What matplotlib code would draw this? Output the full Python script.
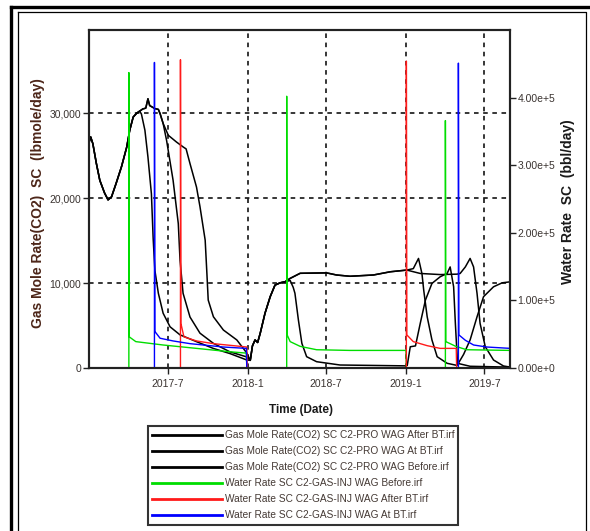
import matplotlib
matplotlib.use("Agg")
import matplotlib.pyplot as plt
import matplotlib.dates as mdates
from matplotlib.lines import Line2D
from matplotlib.ticker import FuncFormatter, FixedLocator
import numpy as np

plt.rcParams['font.family'] = ['Liberation Sans', 'DejaVu Sans']

start = np.datetime64('2017-01-01')

# gas mole rate (lbmole/day), days since 2017-01-01
gas_early_days = [0, 3, 8, 16, 24, 35, 43, 51, 62, 74, 86, 93, 101, 109, 116]
gas_early = [26700, 27200, 26400, 24100, 22100, 20600, 19800, 20150, 21800, 23700, 26000, 28000, 29550, 30000, 30250]

before1_days = [120, 128, 135, 143, 147, 151, 159, 170, 186, 209, 247, 286, 324, 363]
before1 = [29900, 28000, 24850, 20500, 15300, 11500, 8800, 6450, 4850, 3900, 3100, 2300, 1700, 940]

peak_days = [123, 130, 135, 139, 151, 159, 163, 170]
peak_vals = [30500, 30600, 31700, 30900, 30550, 30450, 29950, 28800]

atbt1_days = [178, 193, 205, 209, 216, 232, 255, 286, 324, 363]
atbt1 = [26800, 22100, 17000, 12700, 8800, 6000, 4100, 2900, 1900, 1300]

after1_days = [182, 201, 217, 223, 232, 247, 255, 267, 271, 274, 286, 309, 340, 363]
after1 = [27400, 26600, 26000, 25800, 24070, 21300, 19000, 15050, 11100, 8000, 6030, 4470, 3300, 1760]

rise_days = [371, 376, 382, 388, 394, 405, 417, 428, 440, 451]
rise = [900, 2600, 3300, 3000, 4100, 6450, 8400, 9760, 10030, 10150]

before2_days = [463, 470, 474, 482, 490, 501, 524, 578, 730, 733, 740, 752, 763, 775, 790, 809, 825, 832, 840, 844, 849, 878, 971]
before2 = [10300, 9500, 8800, 5650, 2900, 1330, 740, 350, 250, 300, 2500, 2600, 5250, 8000, 9960, 10740, 11140, 11900, 9560, 5250, 550, 200, 100]

plat_days = [463, 486, 547, 570, 601, 655, 694, 732]
plat = [10550, 11150, 11200, 10950, 10800, 10950, 11330, 11530]

after2_days = [747, 759, 767, 771, 779, 790, 802, 825, 848, 863, 878, 894, 909, 932, 952, 971]
after2 = [11700, 12900, 11100, 9170, 6030, 3300, 1330, 550, 300, 1600, 3300, 6030, 8400, 9560, 10030, 10150]

atbt2_days = [763, 809, 848, 855, 867, 878, 886, 894, 901, 913, 932, 955, 971]
atbt2 = [11130, 11000, 11050, 11130, 11900, 12900, 11900, 8780, 5250, 2500, 940, 235, 100]

# water rate (bbl/day)
wb_days = [0, 91, 91, 92, 107, 170, 247, 324, 362, 363, 455, 455, 456, 463, 486, 524, 600, 730, 731, 821, 821, 822, 845, 870, 971]
wb = [0, 0, 437000, 46000, 39000, 34000, 29000, 24000, 22000, 0, 0, 402000, 49000, 39000, 32000, 27000, 26000, 26000, 0, 0, 366000, 39000, 32000, 27000, 26000]

wa_days = [0, 210, 210, 211, 218, 247, 286, 348, 363, 364, 731, 731, 732, 747, 779, 809, 846, 847, 971]
wa = [0, 0, 456000, 66000, 46000, 40000, 36000, 32000, 31000, 0, 0, 454000, 49000, 39000, 33000, 29000, 29000, 0, 0]

wt_days = [0, 150, 150, 151, 163, 193, 232, 309, 362, 363, 851, 851, 852, 867, 886, 917, 971]
wt = [0, 0, 452000, 54000, 44000, 40000, 36000, 31000, 29000, 0, 0, 451000, 49000, 41000, 34000, 31000, 29000]


def series(*parts):
    d = np.concatenate([p[0] for p in parts]).astype(int)
    v = np.concatenate([p[1] for p in parts])
    return start + d.astype('timedelta64[D]'), v


g_after = series((gas_early_days, gas_early), (peak_days, peak_vals), (after1_days, after1),
                 (rise_days, rise), (plat_days, plat), (after2_days, after2))
g_at = series((gas_early_days, gas_early), (peak_days, peak_vals), (atbt1_days, atbt1),
              (rise_days, rise), (plat_days, plat), (atbt2_days, atbt2))
g_before = series((gas_early_days, gas_early), (before1_days, before1),
                  (rise_days, rise), (before2_days, before2))

fig = plt.figure(figsize=(5.9, 5.31), dpi=100)
ax = fig.add_axes([0.1508, 0.307, 0.7136, 0.6365])
ax2 = ax.twinx()

ax.plot(g_after[0], g_after[1], color='black', lw=1.1)
ax.plot(g_at[0], g_at[1], color='black', lw=1.1)
ax.plot(g_before[0], g_before[1], color='black', lw=1.1)

ax2.plot(start + np.array(wb_days).astype('timedelta64[D]'), wb, color='#00dd00', lw=1.0)
ax2.plot(start + np.array(wa_days).astype('timedelta64[D]'), wa, color='#ff1a1a', lw=1.0)
ax2.plot(start + np.array(wt_days).astype('timedelta64[D]'), wt, color='#0000ff', lw=1.0)

ax.set_xlim(np.datetime64('2016-12-31'), np.datetime64('2019-08-29'))
ax.set_ylim(0, 39800)
ax2.set_ylim(0, 500000)

xt = [mdates.date2num(np.datetime64(s)) for s in ['2017-07-01', '2018-01-01', '2018-07-01', '2019-01-01', '2019-07-01']]
ax.xaxis.set_major_locator(FixedLocator(xt))
ax.xaxis.set_major_formatter(FuncFormatter(lambda v, p: f"{mdates.num2date(v).year}-{mdates.num2date(v).month}"))
ax.set_yticks([0, 10000, 20000, 30000])
ax.yaxis.set_major_formatter(FuncFormatter(lambda v, p: f"{v:,.0f}"))
ax2.set_yticks([0, 100000, 200000, 300000, 400000])


def sci(v, p):
    if v == 0:
        return "0.00e+0"
    e = int(np.floor(np.log10(v)))
    return f"{v / 10**e:.2f}e+{e}"


ax2.yaxis.set_major_formatter(FuncFormatter(sci))

tick_col = '#3a3330'
for a in (ax, ax2):
    a.tick_params(direction='out', length=4, width=1, labelsize=7.5, labelcolor=tick_col, colors='#222222', pad=1.5)
    for s in a.spines.values():
        s.set_linewidth(1.5)
        s.set_color('#222222')
ax.tick_params(axis='x', pad=4)

ax.grid(True, color='black', linestyle=(0, (3, 3)), lw=1.1)

fig.text(38 / 590, 1 - 203 / 531, 'Gas Mole Rate(CO2)  SC  (lbmole/day)', rotation=90, ha='center', va='center',
         fontsize=10, fontweight='bold', color='#4d2619')
fig.text(568 / 590, 1 - 202 / 531, 'Water Rate  SC  (bbl/day)', rotation=90, ha='center', va='center',
         fontsize=10, fontweight='bold', color='#1a1a1a')
fig.text(301 / 590, 1 - 410 / 531, 'Time (Date)', ha='center', va='center',
         fontsize=8.5, fontweight='bold', color='#1a1a1a')

labels = ['Gas Mole Rate(CO2) SC C2-PRO WAG After BT.irf',
          'Gas Mole Rate(CO2) SC C2-PRO WAG At BT.irf',
          'Gas Mole Rate(CO2) SC C2-PRO WAG Before.irf',
          'Water Rate SC C2-GAS-INJ WAG Before.irf',
          'Water Rate SC C2-GAS-INJ WAG After BT.irf',
          'Water Rate SC C2-GAS-INJ WAG At BT.irf']
colors = ['black', 'black', 'black', '#00dd00', '#ff1a1a', '#0000ff']
handles = [Line2D([], [], color=c, lw=2) for c in colors]
leg = fig.legend(handles, labels, loc='upper left', bbox_to_anchor=(148 / 590, 1 - 426 / 531),
                 frameon=True, fancybox=False, edgecolor='black', fontsize=7.3,
                 handlelength=6.9, handletextpad=0.25, borderpad=0.4, labelspacing=0.6,
                 borderaxespad=0)
leg.get_frame().set_linewidth(1.5)
for t in leg.get_texts():
    t.set_color('#453a35')

# outer frames
fig.add_artist(Line2D([10.5 / 590, 1], [1 - 7 / 531, 1 - 7 / 531], transform=fig.transFigure, color='black', lw=2.4))
fig.add_artist(Line2D([10.5 / 590, 10.5 / 590], [0, 1 - 7 / 531], transform=fig.transFigure, color='black', lw=2.4))
fig.add_artist(Line2D([17.5 / 590, 586 / 590, 586 / 590], [1 - 11.5 / 531, 1 - 11.5 / 531, 0], transform=fig.transFigure, color='black', lw=0.9))
fig.add_artist(Line2D([17.5 / 590, 17.5 / 590], [0, 1 - 11.5 / 531], transform=fig.transFigure, color='black', lw=0.9))

fig.savefig('out.png', dpi=100)
